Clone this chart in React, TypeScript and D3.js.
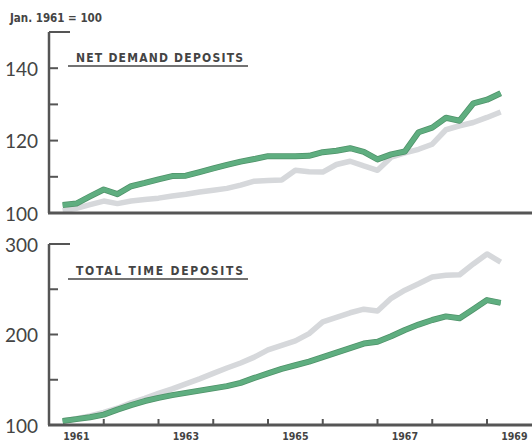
import * as d3 from "d3";

// quarterly observations, plotted at the end of each quarter
const periods = [
  "1961Q1", "1961Q2", "1961Q3", "1961Q4",
  "1962Q1", "1962Q2", "1962Q3", "1962Q4",
  "1963Q1", "1963Q2", "1963Q3", "1963Q4",
  "1964Q1", "1964Q2", "1964Q3", "1964Q4",
  "1965Q1", "1965Q2", "1965Q3", "1965Q4",
  "1966Q1", "1966Q2", "1966Q3", "1966Q4",
  "1967Q1", "1967Q2", "1967Q3", "1967Q4",
  "1968Q1", "1968Q2", "1968Q3", "1968Q4",
  "1969Q1",
];

// Net demand deposits (Jan. 1961 = 100)
const demandGreen = [
  102.2, 102.6, 104.6, 106.5, 105.2, 107.4, 108.3, 109.3,
  110.2, 110.3, 111.3, 112.3, 113.3, 114.2, 114.9, 115.7,
  115.7, 115.7, 115.8, 116.8, 117.2, 117.9, 116.9, 114.8,
  116.2, 117.0, 122.3, 123.6, 126.3, 125.5, 130.3, 131.3,
  133.1,
];
const demandGray = [
  100.6, 101.3, 102.3, 103.3, 102.6, 103.3, 103.7, 104.1,
  104.7, 105.2, 105.8, 106.3, 106.8, 107.7, 108.8, 109.0,
  109.1, 111.8, 111.4, 111.3, 113.4, 114.3, 113.0, 111.8,
  115.4, 116.6, 117.6, 119.0, 123.0, 124.1, 125.0, 126.4,
  127.9,
];

// Total time deposits (Jan. 1961 = 100)
const timeGreen = [
  104.5, 106.5, 108.5, 111.5, 117, 122, 126.5, 130,
  133, 135.5, 138, 140.5, 143, 146.5, 152, 157,
  162, 166, 170, 175, 180, 185, 190, 192,
  198, 205, 211, 216, 220, 218, 228, 238,
  235,
];
const timeGray = [
  104.5, 107, 110, 114, 118.5, 124.5, 129.5, 135,
  140, 145.5, 151, 157, 163, 168.5, 175, 183,
  188, 193, 201, 214, 219, 224, 228, 226,
  240, 249, 256, 263.5, 265.5, 266, 278, 289,
  280,
];

const demandTicks = [100, 110, 120, 130, 140, 150];
const demandLabels = [100, 120, 140];
const timeTicks = [100, 150, 200, 250, 300];
const timeLabels = [100, 200, 300];
const yearTicks = [1962, 1963, 1964, 1965, 1966, 1967, 1968, 1969];
const yearLabels = [1961, 1963, 1965, 1967, 1969];

const W = 532;
const H = 444;
const AXIS = "#555555";
const GREEN = "#5fae80";
const GREEN_EDGE = "#4f9269";
const GRAY = "#d6d8db";
const NUM_FONT = "Lato, 'DejaVu Sans', sans-serif";
const BOLD_FONT = "'DejaVu Sans Condensed', 'DejaVu Sans', sans-serif";

const toYear = (p: string) => +p.slice(0, 4) + +p.slice(5) / 4;

const x = d3.scaleLinear().domain([1961, 1970]).range([49, 541.75]);
const yTop = d3.scaleLinear().domain([100, 150]).range([213, 32]);
const yBot = d3.scaleLinear().domain([100, 300]).range([425, 244]);

function Series({ values, y, color, edge }: { values: number[]; y: d3.ScaleLinear<number, number>; color: string; edge?: string }) {
  const line = d3
    .line<number>()
    .x((_, i) => x(toYear(periods[i])))
    .y((v) => y(v))
    .curve(d3.curveLinear);
  const d = line(values) || "";
  return (
    <g>
      {edge && <path d={d} fill="none" stroke={edge} strokeWidth={6} strokeLinejoin="round" />}
      <path d={d} fill="none" stroke={color} strokeWidth={edge ? 4.5 : 5.5} strokeLinejoin="round" />
    </g>
  );
}

function Panel({ y, ticks, labels, title, titleY, green, gray }: any) {
  const [base, top] = y.range();
  const topVal = y.domain()[1];
  return (
    <g>
      <Series values={gray} y={y} color={GRAY} />
      <Series values={green} y={y} color={GREEN} edge={GREEN_EDGE} />
      {/* y axis with bracket at the top */}
      <line x1={49} x2={49} y1={top} y2={base} stroke={AXIS} strokeWidth={2.5} />
      {ticks.map((t: number) => (
        <line key={t} x1={49} x2={t === topVal ? 70 : 58} y1={y(t)} y2={y(t)} stroke={AXIS} strokeWidth={2} />
      ))}
      {labels.map((t: number) => (
        <text key={t} x={38} y={y(t)} textAnchor="end" dominantBaseline="central" fontFamily={NUM_FONT} fontSize={19} fill="#444">
          {t}
        </text>
      ))}
      <line x1={48} x2={W} y1={base} y2={base} stroke={AXIS} strokeWidth={3} />
      <text x={76} y={titleY} fontFamily={BOLD_FONT} fontWeight="bold" fontSize={12} fill="#444" textLength={167} lengthAdjust="spacing">
        {title}
      </text>
      <line x1={68} x2={248} y1={titleY + 4} y2={titleY + 4} stroke="#444" strokeWidth={1.5} />
    </g>
  );
}

export default function App() {
  return (
    <svg width={W} height={H} style={{ position: "absolute", left: 0, top: 0, background: "#fff" }}>
      <rect width={W} height={H} fill="#fff" />
      <text x={10} y={22} fontFamily={BOLD_FONT} fontWeight="bold" fontSize={11.5} fill="#444">
        Jan. 1961 = 100
      </text>
      <Panel y={yTop} ticks={demandTicks} labels={demandLabels} title="NET DEMAND DEPOSITS" titleY={62} green={demandGreen} gray={demandGray} />
      <Panel y={yBot} ticks={timeTicks} labels={timeLabels} title="TOTAL TIME DEPOSITS" titleY={275} green={timeGreen} gray={timeGray} />
      {yearTicks.map((yr) => (
        <line key={yr} x1={x(yr)} x2={x(yr)} y1={425} y2={419} stroke={AXIS} strokeWidth={2} />
      ))}
      {yearLabels.map((yr) => (
        <text key={yr} x={x(yr + 0.5)} y={440} textAnchor="middle" fontFamily={BOLD_FONT} fontWeight="bold" fontSize={10.5} fill="#444">
          {yr}
        </text>
      ))}
    </svg>
  );
}
